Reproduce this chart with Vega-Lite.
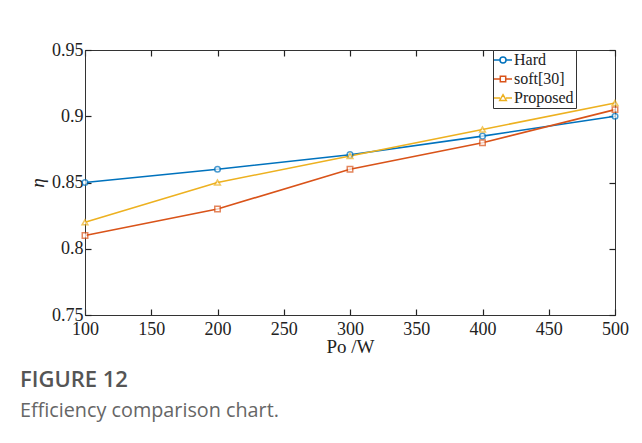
{
  "$schema": "https://vega.github.io/schema/vega-lite/v6.json",
  "autosize": "none",
  "width": 530,
  "height": 265,
  "padding": {"left": 85, "top": 50, "right": 27, "bottom": 128},
  "background": "white",
  "data": {
    "values": [
      {"Po": 100, "eta": 0.85, "series": "Hard"},
      {"Po": 200, "eta": 0.86, "series": "Hard"},
      {"Po": 300, "eta": 0.871, "series": "Hard"},
      {"Po": 400, "eta": 0.885, "series": "Hard"},
      {"Po": 500, "eta": 0.90, "series": "Hard"},
      {"Po": 100, "eta": 0.81, "series": "soft[30]"},
      {"Po": 200, "eta": 0.83, "series": "soft[30]"},
      {"Po": 300, "eta": 0.86, "series": "soft[30]"},
      {"Po": 400, "eta": 0.88, "series": "soft[30]"},
      {"Po": 500, "eta": 0.905, "series": "soft[30]"},
      {"Po": 100, "eta": 0.82, "series": "Proposed"},
      {"Po": 200, "eta": 0.85, "series": "Proposed"},
      {"Po": 300, "eta": 0.87, "series": "Proposed"},
      {"Po": 400, "eta": 0.89, "series": "Proposed"},
      {"Po": 500, "eta": 0.91, "series": "Proposed"}
    ]
  },
  "title": {
    "text": "FIGURE 12",
    "subtitle": "Efficiency comparison chart.",
    "orient": "bottom",
    "anchor": "start",
    "frame": "group",
    "dx": -65,
    "offset": 14,
    "font": "Open Sans",
    "fontSize": 22,
    "fontWeight": 600,
    "color": "#555555",
    "subtitleFont": "Open Sans",
    "subtitleFontSize": 19.8,
    "subtitleFontWeight": "normal",
    "subtitleColor": "#666666",
    "subtitlePadding": 9
  },
  "layer": [
    {
      "mark": {"type": "line", "strokeWidth": 1.6},
      "encoding": {
        "x": {"field": "Po", "type": "quantitative", "scale": {"domain": [100, 500], "nice": false, "zero": false},
              "axis": {"orient": "bottom", "title": "Po /W", "values": [100,150,200,250,300,350,400,450,500], "titlePadding": -1, "labelPadding": 11, "labelFlush": false, "ticks": true}},
        "y": {"field": "eta", "type": "quantitative", "scale": {"domain": [0.75, 0.95], "nice": false, "zero": false},
              "axis": {"orient": "left", "title": "η", "values": [0.75,0.8,0.85,0.9,0.95], "format": "~g", "titleFontStyle": "italic", "titlePadding": 4, "labelFlush": false, "ticks": true}},
        "color": {"field": "series", "type": "nominal",
                  "scale": {"domain": ["Hard", "soft[30]", "Proposed"], "range": ["#0072BD", "#D95319", "#EDB120"]},
                  "legend": {
                    "title": null,
                    "symbolSize": 144,
                    "labelOffset": 3,
                    "encode": {
                      "symbols": {
                        "update": {
                          "shape": {"signal": "datum.value === 'Hard' ? 'M-1.5,0H-0.5M0.5,0H1.5M-0.5,0A0.5,0.5 0 1,0 0.5,0A0.5,0.5 0 1,0 -0.5,0' : datum.value === 'soft[30]' ? 'M-1.5,0H-0.45M0.45,0H1.5M-0.45,-0.45H0.45V0.45H-0.45Z' : 'M-1.5,0H-0.5M0.5,0H1.5M0,-0.55L0.55,0.4H-0.55Z'"},
                          "strokeWidth": {"value": 1.5},
                          "fill": {"value": "white"}
                        }
                      }
                    }
                  }}
      }
    },
    {
      "mark": {"type": "point", "opacity": 0},
      "encoding": {
        "x": {"field": "Po", "type": "quantitative", "scale": {"domain": [100, 500], "nice": false, "zero": false},
              "axis": {"orient": "top", "title": null, "labels": false, "domain": false, "ticks": true, "values": [100,150,200,250,300,350,400,450,500]}},
        "y": {"field": "eta", "type": "quantitative", "scale": {"domain": [0.75, 0.95], "nice": false, "zero": false},
              "axis": {"orient": "right", "title": null, "labels": false, "domain": false, "ticks": true, "values": [0.75,0.8,0.85,0.9,0.95]}}
      }
    },
    {
      "transform": [{"filter": "datum.series === 'Hard'"}],
      "mark": {"type": "point", "filled": false, "size": 32, "strokeWidth": 1.5, "fill": "white", "shape": "circle", "color": "#0072BD"},
      "encoding": {
        "x": {"field": "Po", "type": "quantitative", "axis": null},
        "y": {"field": "eta", "type": "quantitative", "axis": null}
      }
    },
    {
      "transform": [{"filter": "datum.series === 'soft[30]'"}],
      "mark": {"type": "point", "filled": false, "size": 30, "strokeWidth": 1.5, "fill": "white", "shape": "square", "color": "#D95319"},
      "encoding": {
        "x": {"field": "Po", "type": "quantitative", "axis": null},
        "y": {"field": "eta", "type": "quantitative", "axis": null}
      }
    },
    {
      "transform": [{"filter": "datum.series === 'Proposed'"}],
      "mark": {"type": "point", "filled": false, "size": 34, "strokeWidth": 1.5, "fill": "white", "shape": "triangle-up", "color": "#EDB120"},
      "encoding": {
        "x": {"field": "Po", "type": "quantitative", "axis": null},
        "y": {"field": "eta", "type": "quantitative", "axis": null}
      }
    }
  ],
  "resolve": {"axis": {"x": "independent", "y": "independent"}},
  "config": {
    "view": {"stroke": "#333333", "strokeWidth": 1},
    "axis": {
      "grid": false,
      "domainColor": "#333333",
      "tickColor": "#222222",
      "tickSize": -6,
      "tickWidth": 1.2,
      "labelFont": "Liberation Serif",
      "labelFontSize": 18,
      "labelColor": "#222222",
      "labelPadding": 8,
      "titleFont": "Liberation Serif",
      "titleFontSize": 19,
      "titleFontWeight": "normal",
      "titleColor": "#222222"
    },
    "legend": {
      "orient": "none",
      "legendX": 408,
      "legendY": 0,
      "strokeColor": "#333333",
      "fillColor": "white",
      "padding": 2,
      "labelFont": "Liberation Serif",
      "labelFontSize": 16,
      "labelColor": "#222222",
      "rowPadding": 3
    }
  }
}
